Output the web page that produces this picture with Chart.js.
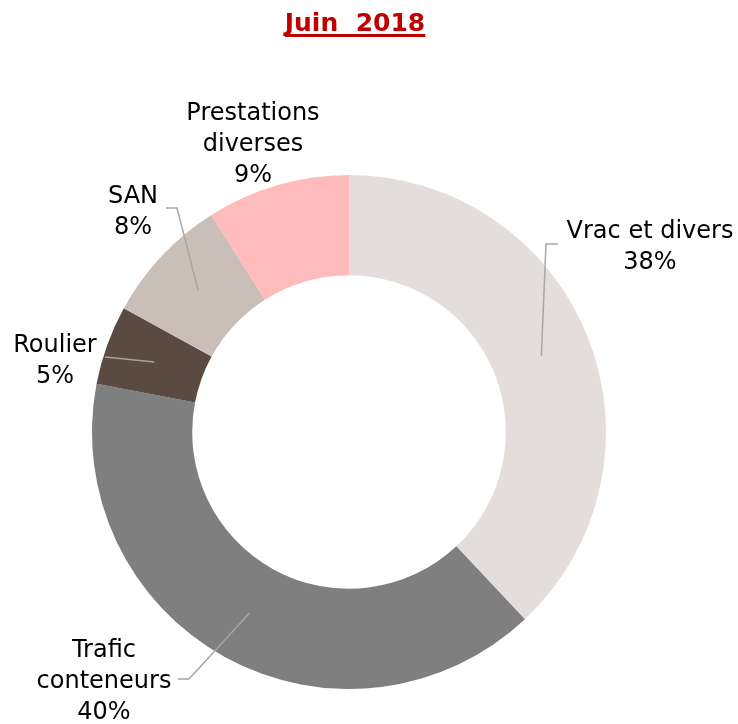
<!DOCTYPE html>
<html>
<head>
<meta charset="utf-8">
<script src="https://cdn.jsdelivr.net/npm/chart.js@4"></script>
<style>
  html, body { margin: 0; padding: 0; background: #ffffff; }
  #wrap { position: relative; width: 738px; height: 724px; }
</style>
</head>
<body>
<div id="wrap"><canvas id="chart"></canvas></div>
<script>
// Chart data
var categories = ['Vrac et divers', 'Trafic conteneurs', 'Roulier', 'SAN', 'Prestations diverses'];
var shares = [38, 40, 5, 8, 9];
var labelLines = [['Vrac et divers'], ['Trafic', 'conteneurs'], ['Roulier'], ['SAN'], ['Prestations', 'diverses']];
var sliceColors = ['#e3dedc', '#7f7f7f', '#594a42', '#c9beb8', '#ffbbbb'];
var titleText = 'Juin  2018';

// Label placement, relative to the doughnut centre (px)
var labelLayout = [
  { x: 301, y: -194, leader: [[197, -188], [209, -188]] },
  { x: -245, y: 225, leader: [[-160, 247], [-171, 247]] },
  { x: -294, y: -80, leader: [[-244, -75]] },
  { x: -216, y: -229, leader: [[-172, -224], [-183, -224]] },
  { x: -96, y: -312, leader: null }
];

var FONT = '"DejaVu Sans", Verdana, sans-serif';

// Draws the title and the outside labels with leader lines
var outsideLabels = {
  id: 'outsideLabels',
  afterDatasetsDraw: function(chart) {
    var ctx = chart.ctx;
    var meta = chart.getDatasetMeta(0);
    var arc0 = meta.data[0];
    var cx = arc0.x, cy = arc0.y;

    ctx.save();

    // leader lines
    ctx.strokeStyle = '#a6a6a6';
    ctx.lineWidth = 1.5;
    meta.data.forEach(function(arc, i) {
      var lay = labelLayout[i];
      if (!lay.leader) return;
      var start = arc.tooltipPosition();
      ctx.beginPath();
      ctx.moveTo(start.x, start.y);
      lay.leader.forEach(function(p) {
        ctx.lineTo(cx + p[0], cy + p[1]);
      });
      ctx.stroke();
    });

    // label text
    ctx.fillStyle = '#000000';
    ctx.font = '24px ' + FONT;
    ctx.textAlign = 'center';
    ctx.textBaseline = 'alphabetic';
    var lineH = 31;
    labelLines.forEach(function(lines, i) {
      var lay = labelLayout[i];
      var all = lines.concat([shares[i] + '%']);
      all.forEach(function(t, k) {
        ctx.fillText(t, cx + lay.x, cy + lay.y + k * lineH);
      });
    });

    // title
    ctx.fillStyle = '#c00000';
    ctx.font = 'bold 25px ' + FONT;
    var tx = 355, ty = 31;
    ctx.fillText(titleText, tx, ty);
    var w = ctx.measureText(titleText).width;
    ctx.fillRect(tx - w / 2, ty + 3, w, 3);

    ctx.restore();
  }
};

new Chart(document.getElementById('chart'), {
  type: 'doughnut',
  data: {
    labels: categories,
    datasets: [{
      data: shares,
      backgroundColor: sliceColors,
      borderWidth: 0
    }]
  },
  options: {
    responsive: true,
    maintainAspectRatio: false,
    animation: false,
    cutout: '61%',
    layout: {
      padding: { top: 175, bottom: 35, left: 92, right: 132 }
    },
    plugins: {
      legend: { display: false },
      tooltip: { enabled: false }
    }
  },
  plugins: [outsideLabels]
});
</script>
</body>
</html>
